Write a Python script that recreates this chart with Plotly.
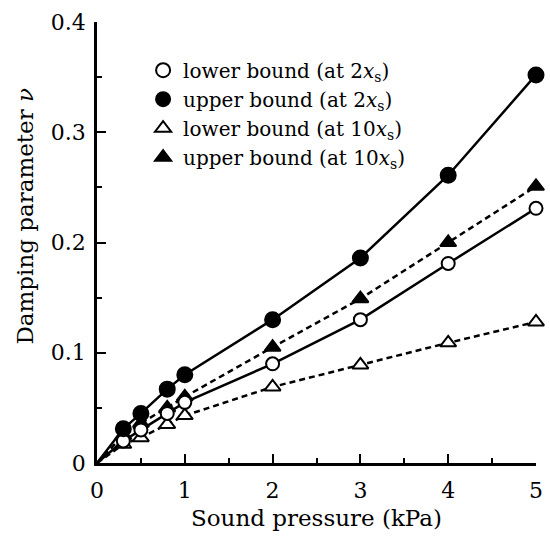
import plotly.graph_objects as go

pressure = [0, 0.3, 0.5, 0.8, 1, 2, 3, 4, 5]
lower_2xs = [0, 0.020, 0.030, 0.045, 0.055, 0.090, 0.130, 0.181, 0.231]
upper_2xs = [0, 0.031, 0.045, 0.067, 0.080, 0.130, 0.186, 0.261, 0.352]
lower_10xs = [0, 0.017, 0.023, 0.035, 0.043, 0.069, 0.089, 0.109, 0.128]
upper_10xs = [0, 0.025, 0.036, 0.050, 0.060, 0.105, 0.149, 0.200, 0.251]

names = [
    "lower bound (at 2<i>x</i><sub>s</sub>)",
    "upper bound (at 2<i>x</i><sub>s</sub>)",
    "lower bound (at 10<i>x</i><sub>s</sub>)",
    "upper bound (at 10<i>x</i><sub>s</sub>)",
]
x_ticks = [0, 1, 2, 3, 4, 5]
y_ticks = [0, 0.1, 0.2, 0.3, 0.4]
y_ticktext = ["0", "0.1", "0.2", "0.3", "0.4"]

FONT = "DejaVu Serif"

series = [
    (lower_2xs, "circle", "#ffffff", "solid", 13),
    (upper_2xs, "circle", "#000000", "solid", 15),
    (lower_10xs, "triangle-up", "#ffffff", "6px,4px", 14),
    (upper_10xs, "triangle-up", "#000000", "6px,4px", 14),
]

fig = go.Figure()
for idx in [2, 3, 0, 1]:
    vals, sym, fill, dash, sz = series[idx]
    sizes = [0] + [sz] * (len(pressure) - 1)
    fig.add_trace(go.Scatter(
        x=pressure, y=vals, mode="lines+markers",
        line=dict(color="#000000", width=2.5, dash=dash),
        marker=dict(symbol=sym, size=sizes, color=fill, opacity=1,
                    line=dict(color="#000000", width=2)),
        showlegend=False, cliponaxis=False, opacity=1,
    ))

for idx in range(4):
    vals, sym, fill, dash, sz = series[idx]
    fig.add_trace(go.Scatter(
        x=[None], y=[None], mode="markers", name=names[idx],
        marker=dict(symbol=sym, size=14, color=fill, opacity=1,
                    line=dict(color="#000000", width=2)),
        showlegend=True,
    ))

fig.update_layout(
    width=550, height=545,
    margin=dict(l=97, r=7, t=22, b=82),
    paper_bgcolor="white", plot_bgcolor="white",
    font=dict(family=FONT, size=22, color="black"),
    legend=dict(x=0.105, y=0.935, xanchor="left", yanchor="top",
                bgcolor="rgba(0,0,0,0)", font=dict(size=20, family=FONT),
                itemwidth=30, tracegroupgap=0),
    xaxis=dict(
        range=[0, 5], tickvals=x_ticks, showgrid=False, zeroline=False,
        showline=True, linecolor="black", linewidth=2.5,
        ticks="inside", ticklen=9, tickwidth=2, tickcolor="black",
        ticklabelstandoff=6,
        minor=dict(ticks="inside", ticklen=5, tickwidth=2, dtick=0.5, tickcolor="black"),
        title=dict(text="Sound pressure (kPa)", standoff=8, font=dict(size=23, family=FONT)),
        tickfont=dict(size=22, family=FONT),
    ),
    yaxis=dict(
        range=[0, 0.4], tickvals=y_ticks, ticktext=y_ticktext,
        showgrid=False, zeroline=False,
        showline=True, linecolor="black", linewidth=2.5,
        ticks="inside", ticklen=9, tickwidth=2, tickcolor="black",
        ticklabelstandoff=4,
        minor=dict(ticks="inside", ticklen=5, tickwidth=2, dtick=0.05, tickcolor="black"),
        tickfont=dict(size=22, family=FONT),
    ),
    annotations=[dict(
        text="Damping parameter <i>ν</i>", textangle=-90,
        xref="paper", yref="paper", x=-0.165, y=0.56,
        xanchor="center", yanchor="middle", showarrow=False,
        font=dict(size=23, family=FONT),
    )],
)

fig.write_html("out.html")
